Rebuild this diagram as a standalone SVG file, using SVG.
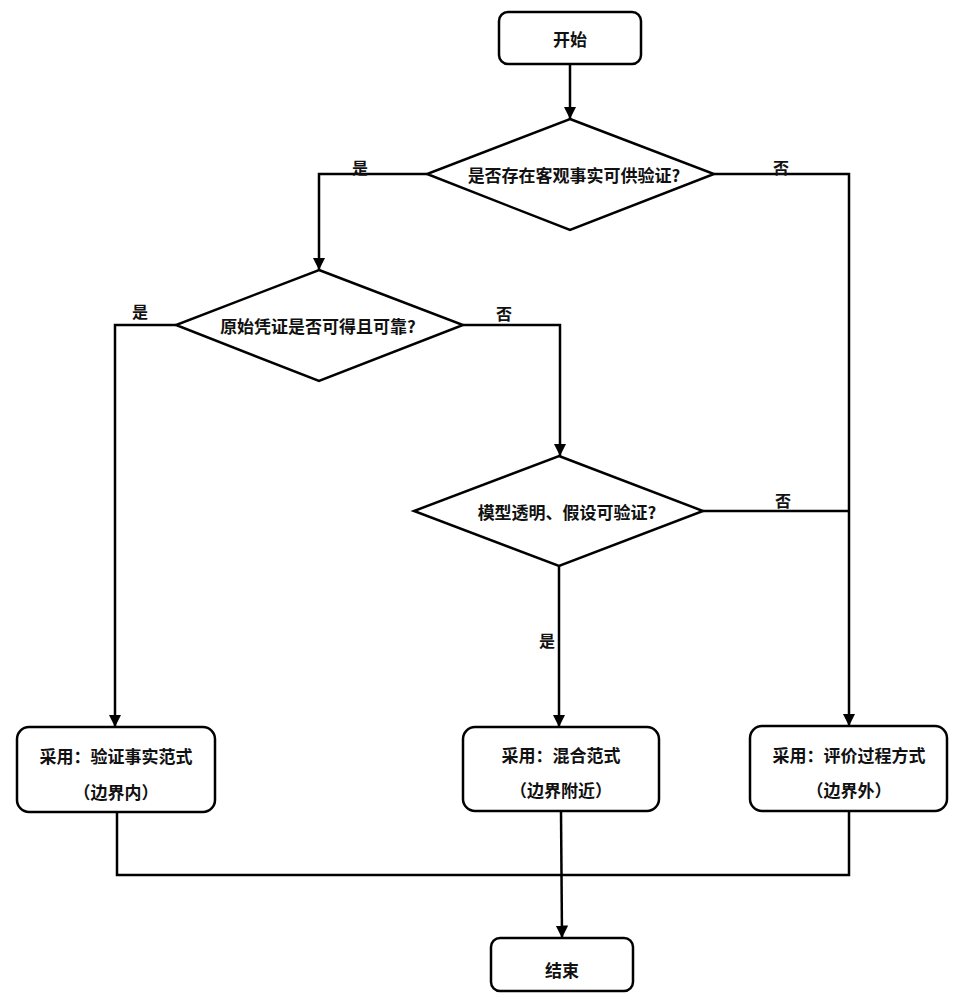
<svg xmlns="http://www.w3.org/2000/svg" width="964" height="996" viewBox="0 0 964 996">
<defs>
<style>
.box{fill:#fff;stroke:#000;stroke-width:2.5}
.t{font-family:"Noto Sans CJK SC","Noto Sans",sans-serif;font-weight:700;font-size:17px;fill:#111;text-anchor:middle;dominant-baseline:central}
.l{font-family:"Noto Sans CJK SC","Noto Sans",sans-serif;font-weight:700;font-size:16px;fill:#111;text-anchor:middle;dominant-baseline:central}
.c{fill:none;stroke:#000;stroke-width:2.5}
</style>
<marker id="ah" viewBox="0 0 10 10" refX="10" refY="5" markerWidth="5" markerHeight="6" orient="auto" markerUnits="strokeWidth">
<path d="M0,0 L10,5 L0,10 Z" fill="#000"/>
</marker>
</defs>
<rect width="964" height="996" fill="#fff"/>
<g id="connectors">
<path class="c" d="M570,64 V119" marker-end="url(#ah)"/>
<path class="c" d="M427,174 H319 V270" marker-end="url(#ah)"/>
<path class="c" d="M714,174 H849 V726" marker-end="url(#ah)"/>
<path class="c" d="M176,325 H115 V727" marker-end="url(#ah)"/>
<path class="c" d="M463,325 H560 V456" marker-end="url(#ah)"/>
<path class="c" d="M703,511 H849"/>
<path class="c" d="M559,566 V727" marker-end="url(#ah)"/>
<path class="c" d="M117,812 V875 H849 V811"/>
<path class="c" d="M561,811 L562,938" marker-end="url(#ah)"/>
<text class="l" x="360" y="167">是</text>
<text class="l" x="781" y="167">否</text>
<text class="l" x="140" y="311">是</text>
<text class="l" x="504" y="313">否</text>
<text class="l" x="783" y="500">否</text>
<text class="l" x="547" y="640">是</text>
</g>
<g id="start">
<rect class="box" x="499" y="12" width="142" height="52" rx="9"/>
<text class="t" x="570" y="38">开始</text>
</g>
<g id="d1">
<polygon class="box" points="570,119 714,174 570,230 427,174"/>
<text class="t" x="574" y="174">是否存在客观事实可供验证?</text>
</g>
<g id="d2">
<polygon class="box" points="319,270 463,325 319,381 176,325"/>
<text class="t" x="318" y="325">原始凭证是否可得且可靠?</text>
</g>
<g id="d3">
<polygon class="box" points="559,456 703,511 559,566 414,511"/>
<text class="t" x="567" y="511">模型透明、假设可验证?</text>
</g>
<g id="b1">
<rect class="box" x="17" y="727" width="198" height="85" rx="12"/>
<text class="t" x="116" y="755">采用：验证事实范式</text>
<text class="t" x="116" y="791">（边界内）</text>
</g>
<g id="b2">
<rect class="box" x="463" y="727" width="196" height="84" rx="12"/>
<text class="t" x="561" y="754">采用：混合范式</text>
<text class="t" x="561" y="789">（边界附近）</text>
</g>
<g id="b3">
<rect class="box" x="750" y="726" width="197" height="85" rx="12"/>
<text class="t" x="849" y="754">采用：评价过程方式</text>
<text class="t" x="849" y="789">（边界外）</text>
</g>
<g id="end">
<rect class="box" x="491" y="938" width="142" height="53" rx="9"/>
<text class="t" x="562" y="969">结束</text>
</g>
</svg>
